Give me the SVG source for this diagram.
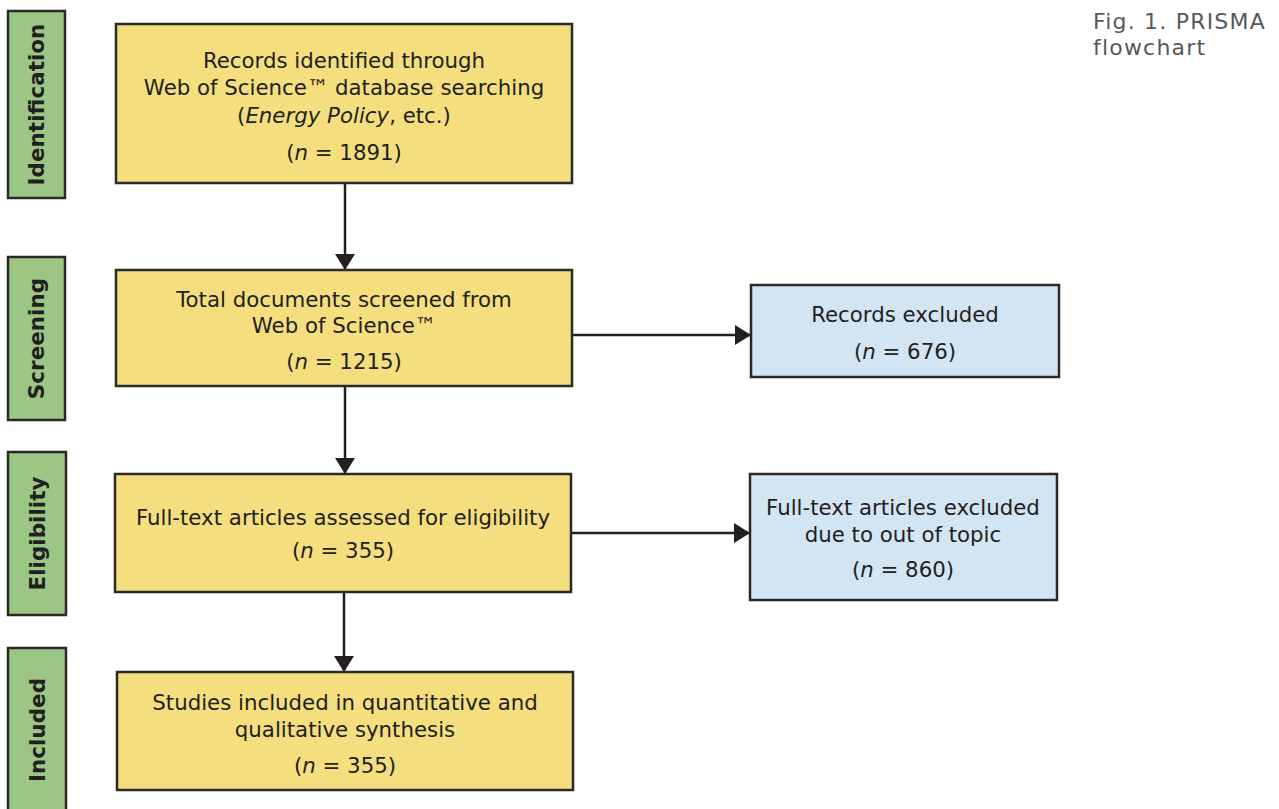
<svg xmlns="http://www.w3.org/2000/svg" width="1279" height="809" viewBox="0 0 1279 809">
  <style>
    .stage { fill: #9bc683; stroke: #2b2a28; stroke-width: 2.5; }
    .stage-t { font-family: "DejaVu Sans", Verdana, sans-serif; font-weight: bold; font-size: 21.5px; fill: #231f20; text-anchor: middle; }
    .box-y { fill: #f4de7e; stroke: #2b2a28; stroke-width: 2.5; }
    .box-b { fill: #d3e4f2; stroke: #2b2a28; stroke-width: 2.5; }
    .t { font-family: "DejaVu Sans", Verdana, sans-serif; font-size: 21.3px; fill: #231f20; text-anchor: middle; }
    .cap { font-family: "DejaVu Sans", Verdana, sans-serif; font-size: 22px; letter-spacing: 1.2px; fill: #58595b; }
    .link { stroke: #231f20; stroke-width: 2.5; fill: none; }
  </style>
  <defs>
    <marker id="head" viewBox="0 0 16 20" refX="16" refY="10" markerWidth="16" markerHeight="20" markerUnits="userSpaceOnUse" orient="auto">
      <path d="M0,0 L16,10 L0,20 Z" fill="#231f20"/>
    </marker>
  </defs>

  <rect width="1279" height="809" fill="#ffffff"/>

  <!-- stage labels -->
  <g id="stage-identification">
    <rect class="stage" x="8" y="11" width="57" height="187"/>
    <text class="stage-t" transform="translate(44,104.5) rotate(-90)">Identification</text>
  </g>
  <g id="stage-screening">
    <rect class="stage" x="8" y="257" width="57" height="163"/>
    <text class="stage-t" transform="translate(44,338.5) rotate(-90)">Screening</text>
  </g>
  <g id="stage-eligibility">
    <rect class="stage" x="8" y="452" width="58" height="163"/>
    <text class="stage-t" transform="translate(45,533.5) rotate(-90)">Eligibility</text>
  </g>
  <g id="stage-included">
    <rect class="stage" x="8" y="648" width="58" height="170"/>
    <text class="stage-t" transform="translate(45,730) rotate(-90)">Included</text>
  </g>

  <!-- connectors -->
  <g id="connectors">
    <line class="link" x1="345" y1="183" x2="345" y2="270" marker-end="url(#head)"/>
    <line class="link" x1="345" y1="386" x2="345" y2="474" marker-end="url(#head)"/>
    <line class="link" x1="344" y1="592" x2="344" y2="672" marker-end="url(#head)"/>
    <line class="link" x1="572" y1="335" x2="751" y2="335" marker-end="url(#head)"/>
    <line class="link" x1="571" y1="533" x2="750" y2="533" marker-end="url(#head)"/>
  </g>

  <!-- flow boxes -->
  <g id="identified">
    <rect class="box-y" x="116" y="24" width="456" height="159"/>
    <text class="t" x="344" y="68">Records identified through</text>
    <text class="t" x="344" y="95">Web of Science™ database searching</text>
    <text class="t" x="344" y="123">(<tspan font-style="italic">Energy Policy</tspan>, etc.)</text>
    <text class="t" x="344" y="160">(<tspan font-style="italic">n</tspan> = 1891)</text>
  </g>
  <g id="screened">
    <rect class="box-y" x="116" y="270" width="456" height="116"/>
    <text class="t" x="344" y="307">Total documents screened from</text>
    <text class="t" x="344" y="333">Web of Science™</text>
    <text class="t" x="344" y="369">(<tspan font-style="italic">n</tspan> = 1215)</text>
  </g>
  <g id="excluded-records">
    <rect class="box-b" x="751" y="285" width="308" height="92"/>
    <text class="t" x="905" y="322">Records excluded</text>
    <text class="t" x="905" y="359">(<tspan font-style="italic">n</tspan> = 676)</text>
  </g>
  <g id="eligibility">
    <rect class="box-y" x="115" y="474" width="456" height="118"/>
    <text class="t" x="343" y="525">Full-text articles assessed for eligibility</text>
    <text class="t" x="343" y="558">(<tspan font-style="italic">n</tspan> = 355)</text>
  </g>
  <g id="excluded-fulltext">
    <rect class="box-b" x="750" y="474" width="307" height="126"/>
    <text class="t" x="903" y="515">Full-text articles excluded</text>
    <text class="t" x="903" y="542">due to out of topic</text>
    <text class="t" x="903" y="577">(<tspan font-style="italic">n</tspan> = 860)</text>
  </g>
  <g id="included">
    <rect class="box-y" x="117" y="672" width="456" height="118"/>
    <text class="t" x="345" y="710">Studies included in quantitative and</text>
    <text class="t" x="345" y="737">qualitative synthesis</text>
    <text class="t" x="345" y="773">(<tspan font-style="italic">n</tspan> = 355)</text>
  </g>

  <!-- caption -->
  <g id="caption">
    <text class="cap" x="1093" y="29">Fig. 1. PRISMA</text>
    <text class="cap" x="1093" y="55">flowchart</text>
  </g>
</svg>
